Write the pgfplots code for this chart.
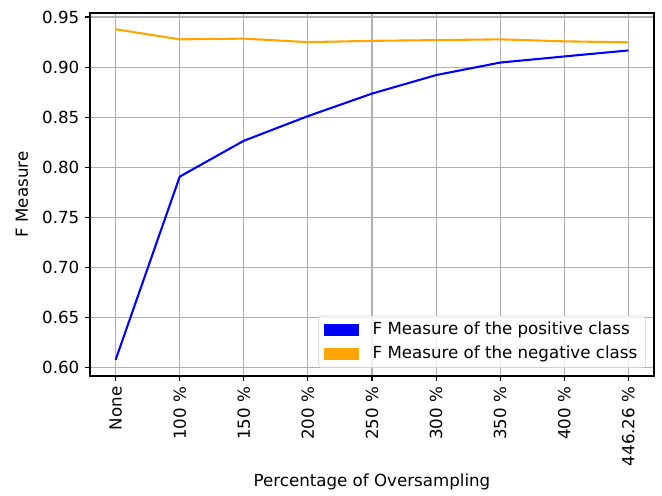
\documentclass[border=0pt,12pt]{standalone}
\usepackage{pgfplots}
\pgfplotsset{compat=1.18}
\usepackage{fontspec}
\setmainfont{DejaVu Sans}
\definecolor{mplorange}{HTML}{FFA500}
\definecolor{mplblue}{HTML}{0000FF}
\definecolor{gridgray}{HTML}{B0B0B0}
\definecolor{legframe}{HTML}{CCCCCC}
\begin{document}
\begin{tikzpicture}
\begin{axis}[
  at={(0,0)}, anchor=south west,
  scale only axis, width=406.08pt, height=261.36pt,
  xmin=-0.4, xmax=8.4, ymin=0.5915, ymax=0.954,
  xtick={0,1,2,3,4,5,6,7,8},
  xticklabels={None,100 \%,150 \%,200 \%,250 \%,300 \%,350 \%,400 \%,446.26 \%},
  ytick={0.60,0.65,0.70,0.75,0.80,0.85,0.90,0.95},
  yticklabel style={/pgf/number format/.cd, fixed, fixed zerofill, precision=2},
  /pgf/number format/assume math mode=true,
  xticklabel style={rotate=90, anchor=east},
  tick align=outside, xtick pos=bottom, ytick pos=left,
  major tick length=3.5pt,
  every tick/.style={black, line width=0.8pt},
  axis line style={line width=0.8pt},
  grid=major,
  major grid style={gridgray, line width=0.8pt},
  xlabel={Percentage of Oversampling},
  ylabel={F Measure},
  xlabel style={at={(axis description cs:0.5,-0.292)}, anchor=center},
  ylabel style={at={(axis description cs:-0.1207,0.5)}, anchor=center},
  legend cell align=left,
  legend style={at={(axis description cs:1,0)}, anchor=south east,
    xshift=-5.76pt, yshift=5.76pt, draw=legframe, rounded corners=2pt,
    fill=white, fill opacity=0.8, text opacity=1,
    inner xsep=3.6pt, inner ysep=2.5pt,
    nodes={inner xsep=0pt, inner ysep=2pt},
    row sep=2.5pt, font=\normalsize},
  legend image code/.code={\fill[#1, draw=none, sharp corners, fill opacity=1] (0pt,-4.3pt) rectangle (25.2pt,4.3pt);
    \path[draw=none, fill=none] (0pt,0pt) -- (35.2pt,0pt);},
]
\addplot[mplblue, line width=1.5pt] coordinates {
 (0,0.6077) (1,0.7906) (2,0.8264) (3,0.8510) (4,0.8735) (5,0.8920) (6,0.9045) (7,0.9106) (8,0.9166)};
\addlegendentry{F Measure of the positive class\hspace*{2.5pt}}
\addplot[mplorange, line width=1.5pt] coordinates {
 (0,0.9377) (1,0.9277) (2,0.9284) (3,0.9249) (4,0.9262) (5,0.9269) (6,0.9277) (7,0.9257) (8,0.9247)};
\addlegendentry{F Measure of the negative class\hspace*{2.5pt}}
\end{axis}
\path (-64.8pt,-85.68pt) rectangle (411.84pt,270.72pt);
\end{tikzpicture}
\end{document}
